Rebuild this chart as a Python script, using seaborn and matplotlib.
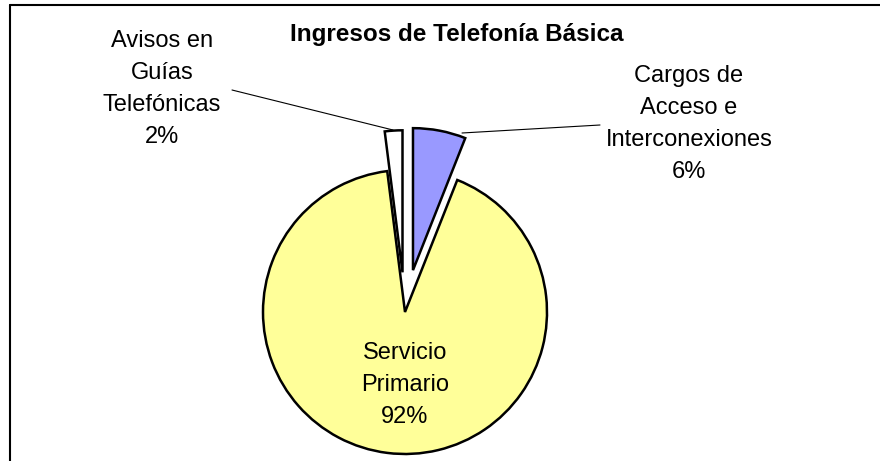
import matplotlib
matplotlib.use("Agg")
import matplotlib.pyplot as plt
from matplotlib.lines import Line2D
import seaborn as sns

# Data (Excel order: clockwise from 12 o'clock)
categories = ["Cargos de\nAcceso e\nInterconexiones", "Servicio\nPrimario", "Avisos en\nGuías\nTelefónicas"]
shares = [6, 92, 2]
colors = ["#9999FF", "#FFFF99", "#FFFFFF"]
explode = [0.3, 0.0, 0.28]
title = "Ingresos de Telefonía Básica"

sns.set_theme(style="white")
plt.rcParams["font.family"] = ["Liberation Sans", "DejaVu Sans"]
plt.rcParams["text.color"] = "black"

W, H = 880, 461
fig = plt.figure(figsize=(W / 100, H / 100), dpi=100)
ax = fig.add_axes([0, 0, 1, 1])

# pixel-like coordinate system, y going up
cx, cy, r = 405, H - 312, 142
wedges, _ = ax.pie(
    shares, colors=colors, explode=[e * r for e in explode], startangle=90, counterclock=False,
    center=(cx, cy), radius=r,
    wedgeprops=dict(edgecolor="black", linewidth=1.8),
)
ax.set_xlim(0, W)
ax.set_ylim(0, H)
ax.set_aspect("equal")
ax.axis("off")

labels = [f"{c}\n{v}%" for c, v in zip(categories, shares)]
fs = 17
ls = 1.6

# Cargos label + leader line
ax.text(689, H - 124, labels[0], ha="center", va="center", fontsize=fs, linespacing=ls)
ax.plot([600, 462], [H - 125, H - 133], color="black", lw=0.8)
# Servicio label inside the big slice
ax.text(405, H - 385, labels[1], ha="center", va="center", fontsize=fs, linespacing=ls)
# Avisos label + leader line
ax.text(162, H - 89, labels[2], ha="center", va="center", fontsize=fs, linespacing=ls)
ax.plot([232, 393], [H - 90, H - 130], color="black", lw=0.8)

ax.text(457, H - 35, title, ha="center", va="center", fontsize=17.5, fontweight="bold")

# chart area frame (left and top edges visible)
fig.add_artist(Line2D([10 / W, 10 / W], [0, 1 - 5 / H], transform=fig.transFigure, color="black", lw=1.5))
fig.add_artist(Line2D([10 / W, 1], [1 - 5 / H, 1 - 5 / H], transform=fig.transFigure, color="black", lw=1.5))

fig.savefig("out.png", dpi=100, facecolor="white")
